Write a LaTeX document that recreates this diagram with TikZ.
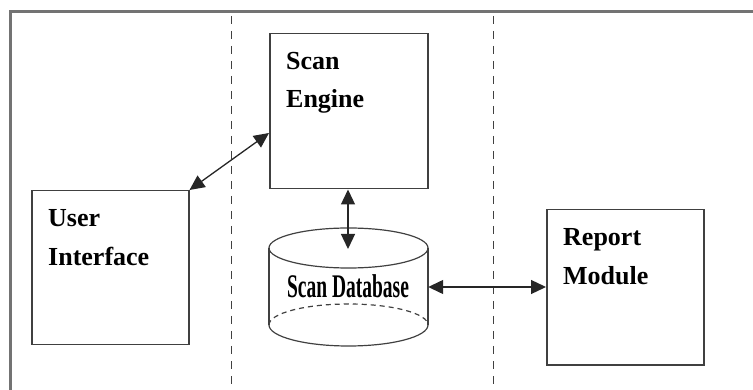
\documentclass[tikz,border=0pt]{standalone}
\usepackage{fontspec}
\setmainfont{Liberation Serif}
\usetikzlibrary{arrows.meta,calc}
\begin{document}
\begin{tikzpicture}[x=1pt,y=-1pt,
  box/.style={draw=black!75,line width=1.5pt,rectangle,inner sep=0pt,anchor=north west},
  lbl/.style={anchor=base west,inner sep=0pt,font=\fontsize{26}{30}\selectfont\bfseries},
  conn/.style={draw=black!85,line width=1.3pt,{Triangle[length=15pt,width=14pt]}-{Triangle[length=15pt,width=14pt]}},
  divider/.style={draw=black!75,line width=1pt,dash pattern=on 8pt off 7pt},
  cyl/.style={draw=black!75,line width=1.2pt}]
\useasboundingbox (0,0) rectangle (753,390);
% frame
\draw[black!55,line width=3pt] (10,392) -- (10,12) -- (755,12);
% dividers
\coordinate (d1t) at (231,16); \coordinate (d1b) at (231,390);
\coordinate (d2t) at (493,16); \coordinate (d2b) at (493,390);
\draw[divider] (d1t) -- (d1b);
\draw[divider] (d2t) -- (d2b);
% boxes
\node[box,minimum width=157pt,minimum height=154pt] (ui) at (31,190) {};
\node[box,minimum width=158pt,minimum height=155pt] (se) at (269,33) {};
\node[box,minimum width=157pt,minimum height=155pt] (rm) at (546,209) {};
\node[lbl] (ui1) at (48,227) {User};
\node[lbl] (ui2) at (48,266) {Interface};
\node[lbl] (se1) at (286,70) {Scan};
\node[lbl] (se2) at (286,108) {Engine};
\node[lbl] (rm1) at (563,246) {Report};
\node[lbl] (rm2) at (563,285) {Module};
% cylinder
\node[inner sep=0pt,minimum width=159pt,minimum height=75pt] (db) at (348.5,286) {};
\fill[white] (269,248) -- (269,325) arc[start angle=180,end angle=360,x radius=79.5,y radius=-21] -- (428,248) -- cycle;
\draw[cyl] (348.5,248) ellipse[x radius=79.5,y radius=20];
\draw[cyl] (269,248) -- (269,325);
\draw[cyl] (428,248) -- (428,325);
\draw[cyl] (269,325) arc[start angle=180,end angle=360,x radius=79.5,y radius=-21];
\draw[cyl,dash pattern=on 5pt off 4pt] (269,325) arc[start angle=180,end angle=0,x radius=79.5,y radius=-21];
\node[inner sep=0pt,xscale=0.65,yscale=1.1,font=\fontsize{30}{34}\selectfont\bfseries] (dbl) at (348,286) {Scan Database};
% connectors
\coordinate (setop) at (348,249);
\coordinate (sel) at (269,133);
\draw[conn] (ui.north east) -- (sel);
\draw[conn] (se.south -| setop) -- (setop);
\draw[conn] (db.east |- 0,287) -- (rm.west |- 0,287);
\end{tikzpicture}
\end{document}
